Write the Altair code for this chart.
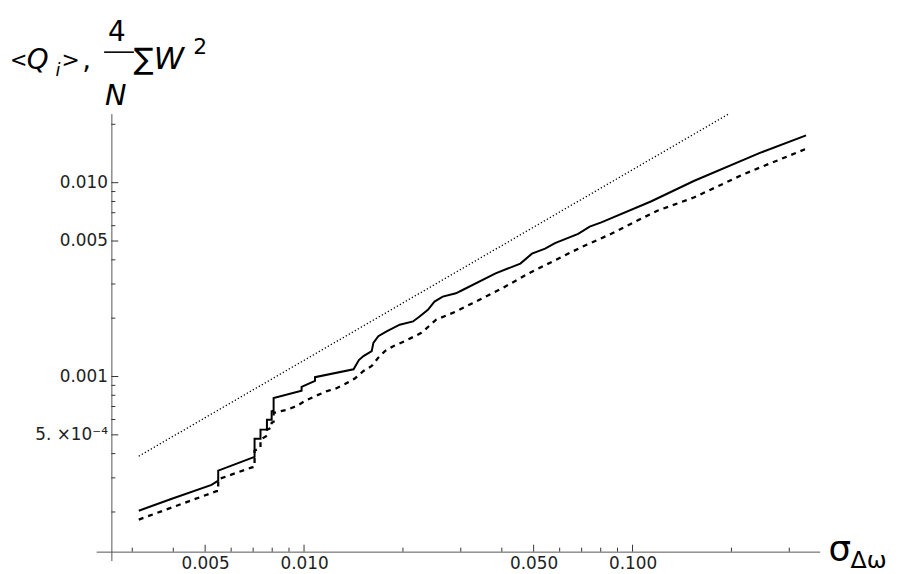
import altair as alt
import pandas as pd

# ---------------- data ----------------
solid_x = [0.00314, 0.00396, 0.00523, 0.00548, 0.00548, 0.00707, 0.00707, 0.00737,
           0.00737, 0.00771, 0.00771, 0.00797, 0.00797, 0.00808, 0.00808, 0.00983,
           0.00983, 0.0108, 0.0108, 0.01415, 0.01469, 0.01517, 0.01607, 0.01626,
           0.01683, 0.01784, 0.01956, 0.02147, 0.02248, 0.02383, 0.02495, 0.02644,
           0.0290, 0.03039, 0.03829, 0.04555, 0.0494, 0.05419, 0.05808, 0.0683,
           0.07407, 0.08035, 0.1137, 0.1536, 0.2442, 0.3375]
solid_y = [2.03e-4, 2.34e-4, 2.76e-4, 2.90e-4, 3.27e-4, 3.85e-4, 4.78e-4, 4.78e-4,
           5.32e-4, 5.32e-4, 5.98e-4, 5.98e-4, 6.62e-4, 6.65e-4, 7.75e-4, 8.44e-4,
           8.85e-4, 9.50e-4, 9.92e-4, 1.09e-3, 1.215e-3, 1.274e-3, 1.352e-3, 1.492e-3,
           1.613e-3, 1.711e-3, 1.851e-3, 1.924e-3, 2.041e-3, 2.208e-3, 2.435e-3, 2.583e-3,
           2.688e-3, 2.795e-3, 3.402e-3, 3.826e-3, 4.304e-3, 4.565e-3, 4.876e-3, 5.448e-3,
           5.935e-3, 6.243e-3, 7.997e-3, 0.0102, 0.01424, 0.01753]

dashed_x = [0.00314, 0.00396, 0.00541, 0.00548, 0.00548, 0.0069, 0.00707, 0.00707,
            0.00737, 0.00737, 0.00771, 0.00771, 0.00797, 0.00797, 0.00808, 0.00808,
            0.0089, 0.009545, 0.01009, 0.01089, 0.01168, 0.01251, 0.01332, 0.01431,
            0.01517, 0.01607, 0.01683, 0.01763, 0.01869, 0.02026, 0.02275, 0.02524,
            0.0290, 0.03257, 0.03743, 0.04012, 0.04825, 0.05808, 0.06992, 0.08612,
            0.1124, 0.1190, 0.1536, 0.2174, 0.3375]
dashed_y = [1.827e-4, 2.11e-4, 2.56e-4, 2.56e-4, 2.95e-4, 3.386e-4, 3.42e-4, 4.15e-4,
            4.27e-4, 4.72e-4, 4.95e-4, 5.32e-4, 5.44e-4, 5.77e-4, 5.84e-4, 6.49e-4,
            6.75e-4, 7.07e-4, 7.50e-4, 7.96e-4, 8.38e-4, 8.68e-4, 9.14e-4, 9.80e-4,
            1.068e-3, 1.133e-3, 1.251e-3, 1.352e-3, 1.434e-3, 1.521e-3, 1.679e-3, 1.963e-3,
            2.165e-3, 2.389e-3, 2.688e-3, 2.851e-3, 3.402e-3, 3.979e-3, 4.652e-3, 5.448e-3,
            6.839e-3, 7.168e-3, 8.381e-3, 0.01104, 0.01496]

dotted_x = [0.00314, 0.196]
dotted_y = [3.88e-4, 0.0226]

x_major = [0.005, 0.01, 0.05, 0.1]
x_minor = [0.003, 0.004, 0.006, 0.007, 0.008, 0.009, 0.02, 0.03, 0.04,
           0.06, 0.07, 0.08, 0.09, 0.2, 0.3]
y_major = [0.0005, 0.001, 0.005, 0.01]
y_minor = [0.0002, 0.0003, 0.0004, 0.0006, 0.0007, 0.0008, 0.0009, 0.002,
           0.003, 0.004, 0.006, 0.007, 0.008, 0.009, 0.02]

X_DOMAIN = [0.00233, 0.3712]
Y_DOMAIN = [1.123e-4, 0.02272]

# ---------------- layout ----------------
W, H = 730, 451
FONT = "DejaVu Sans"
Y_AXIS_X = 15.3          # y axis drawn inside the plot area
X_AXIS_OFF = 9           # x axis drawn above the bottom edge
X_AXIS_Y = H - X_AXIS_OFF
TICK_FS = 17

xs = alt.Scale(type="log", domain=X_DOMAIN, nice=False)
ys = alt.Scale(type="log", domain=Y_DOMAIN, nice=False)

x_axis = alt.Axis(values=x_major, format=".3f", ticks=False, domain=True,
                  domainColor="#555555", domainWidth=1, labelFont=FONT,
                  labelFontSize=TICK_FS, labelColor="#222222", labelPadding=4,
                  offset=-X_AXIS_OFF, grid=False, title=None, labelFlush=False)
y_axis = alt.Axis(values=y_major,
                  labelExpr="datum.value < 0.0007 ? '5. ×10⁻⁴' : format(datum.value, '.3f')",
                  ticks=False, domain=True, domainColor="#555555", domainWidth=1,
                  labelFont=FONT, labelFontSize=TICK_FS, labelColor="#222222",
                  labelPadding=4, offset=-Y_AXIS_X, grid=False, title=None,
                  labelFlush=False)


def series(xv, yv, width, dash=None):
    df = pd.DataFrame({"x": xv, "y": yv, "i": list(range(len(xv)))})
    kw = dict(color="black", strokeWidth=width)
    if dash is not None:
        kw["strokeDash"] = dash
    return alt.Chart(df).mark_line(**kw).encode(
        x=alt.X("x:Q", scale=xs, axis=x_axis),
        y=alt.Y("y:Q", scale=ys, axis=y_axis),
        order="i:Q",
    )


solid = series(solid_x, solid_y, 2.0)
dashed = series(dashed_x, dashed_y, 2.3, [5, 5])
dotted = series(dotted_x, dotted_y, 1.3, [1.3, 2.2])


def xticks(vals, length):
    return alt.Chart(pd.DataFrame({"v": vals})).mark_rule(color="#333333", strokeWidth=1).encode(
        x=alt.X("v:Q", scale=xs, axis=x_axis),
        y=alt.value(X_AXIS_Y - length), y2=alt.value(X_AXIS_Y))


def yticks(vals, length):
    return alt.Chart(pd.DataFrame({"v": vals})).mark_rule(color="#333333", strokeWidth=1).encode(
        y=alt.Y("v:Q", scale=ys, axis=y_axis),
        x=alt.value(Y_AXIS_X), x2=alt.value(Y_AXIS_X + length))


def label(text, x, y, size, italic=False):
    kw = dict(font=FONT, fontSize=size, align="left", baseline="alphabetic", color="black")
    if italic:
        kw["fontStyle"] = "italic"
    return alt.Chart(pd.DataFrame({"t": [text]})).mark_text(**kw).encode(
        text="t:N", x=alt.value(x), y=alt.value(y))


# positions relative to the plot origin (page x 97, y 112)
title_parts = [
    label("<", -87, -47, 21),
    label("Q", -70, -45, 28, True),
    label("i", -41, -38, 18, True),
    label(">", -35, -47, 22),
    label(",", -14, -45, 28),
    label("4", 12, -73, 28),
    label("N", 9, -9, 29, True),
    label("∑", 38, -45, 30),
    label("W", 58, -45, 31, True),
    label("2", 98, -60, 22),
    label("σ", 739, 451, 36),
    label("Δω", 761, 458, 24),
]

frac_bar = alt.Chart(pd.DataFrame({"k": [0]})).mark_rule(color="black", strokeWidth=1.6).encode(
    x=alt.value(8), x2=alt.value(38), y=alt.value(-62))

chart = alt.layer(
    dotted, dashed, solid,
    xticks(x_major, 7), xticks(x_minor, 4),
    yticks(y_major, 7), yticks(y_minor, 4),
    frac_bar, *title_parts,
).properties(
    width=W, height=H,
    autosize=alt.AutoSizeParams(type="none"),
    padding={"left": 89, "top": 104, "right": 74, "bottom": 11},
    background="white",
).configure_view(stroke=None)

chart.save("out.html", embed_options={"renderer": "svg", "actions": False})
